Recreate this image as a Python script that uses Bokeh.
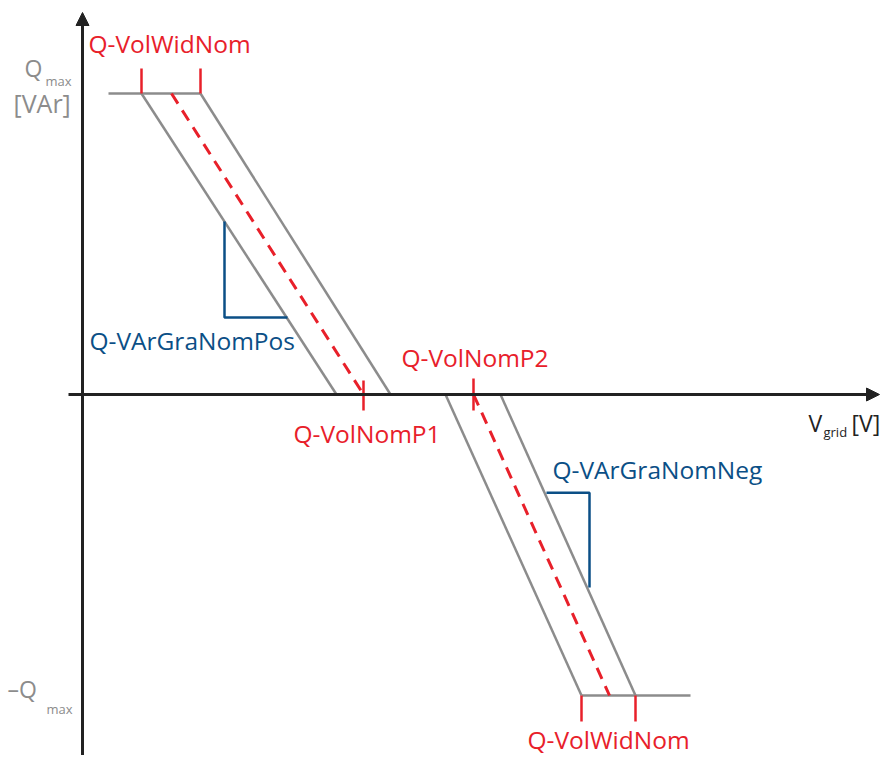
from bokeh.plotting import figure
from bokeh.models import Range1d, Arrow, NormalHead, Label
from bokeh.embed import file_html
from bokeh.resources import INLINE

# ---- data (V in schematic voltage units, Q in units of Qmax) ----
q_max = 1.0
# upper band (positive reactive power)
upper_flat_v = [26, 118]
upper_flat_q = [q_max, q_max]
upper_left_v = [59, 254]
upper_right_v = [118, 308]
upper_center_v = [89, 281]
upper_q = [q_max, 0.0]
# lower band (negative reactive power)
lower_left_v = [363, 499]
lower_right_v = [418, 553]
lower_center_v = [391, 527]
lower_q = [0.0, -q_max]
lower_flat_v = [499, 608]
lower_flat_q = [-q_max, -q_max]
# parameter markers
vol_nom_p1 = 281
vol_nom_p2 = 391
wid_top = [59, 118]
wid_bottom = [499, 553]
# gradient triangles
grad_pos_v = [142, 142, 205]
grad_pos_q = [0.575, 0.256, 0.256]
grad_neg_v = [464, 507, 507]
grad_neg_q = [-0.326, -0.326, -0.641]

RED = "#e8202a"
GRAY = "#8c8c8c"
BLUE = "#0b4f86"
BLACK = "#222222"
FONT = "Open Sans"

def qy(py):
    return (394 - py) / 301.0

p = figure(width=880, height=755, x_range=Range1d(-82, 798),
           y_range=Range1d(qy(755), qy(0)), output_backend="svg",
           toolbar_location=None, min_border=0,
           x_axis_type=None, y_axis_type=None)
p.grid.visible = False
p.outline_line_color = None
p.background_fill_color = "white"
p.border_fill_color = "white"

# axes with arrows
p.add_layout(Arrow(end=NormalHead(size=13, fill_color=BLACK, line_color=BLACK, line_width=1),
                   x_start=-14, y_start=0, x_end=797, y_end=0,
                   line_color=BLACK, line_width=3))
p.add_layout(Arrow(end=NormalHead(size=13, fill_color=BLACK, line_color=BLACK, line_width=1),
                   x_start=0, y_start=qy(775), x_end=0, y_end=qy(12),
                   line_color=BLACK, line_width=3))

# gray characteristic band
lw = 2.5
p.line(upper_flat_v, upper_flat_q, line_color=GRAY, line_width=lw)
p.line(upper_left_v, upper_q, line_color=GRAY, line_width=lw)
p.line(upper_right_v, upper_q, line_color=GRAY, line_width=lw)
p.line(lower_left_v, lower_q, line_color=GRAY, line_width=lw)
p.line(lower_right_v, lower_q, line_color=GRAY, line_width=lw)
p.line(lower_flat_v, lower_flat_q, line_color=GRAY, line_width=lw)

# red dashed center lines
p.line(upper_center_v, upper_q, line_color=RED, line_width=3, line_dash="12 8")
p.line(lower_center_v, lower_q, line_color=RED, line_width=3, line_dash="12 8")

# red tick markers
tick_top = qy(68)
tick_bot = qy(721)
p.segment(x0=wid_top, y0=[q_max] * 2, x1=wid_top, y1=[tick_top] * 2,
          line_color=RED, line_width=2.5)
p.segment(x0=wid_bottom, y0=[-q_max] * 2, x1=wid_bottom, y1=[tick_bot] * 2,
          line_color=RED, line_width=2.5)
p.segment(x0=[vol_nom_p1, vol_nom_p2], y0=[qy(380), qy(378)],
          x1=[vol_nom_p1, vol_nom_p2], y1=[qy(410), qy(410)],
          line_color=RED, line_width=2.5)

# blue gradient triangles
p.line(grad_pos_v, grad_pos_q, line_color=BLUE, line_width=2.5)
p.line(grad_neg_v, grad_neg_q, line_color=BLUE, line_width=2.5)

def lab(text, px, py, color, size, align="left"):
    p.add_layout(Label(x=px - 82, y=qy(py), text=text, text_color=color,
                       text_font=FONT, text_font_size=f"{size}px",
                       text_align=align, text_baseline="middle"))

LS = 24.5
lab("Q-VolWidNom", 88, 43, RED, LS)
lab("Q-VArGraNomPos", 89, 340, BLUE, LS)
lab("Q-VolNomP1", 293, 433, RED, LS)
lab("Q-VolNomP2", 401, 357, RED, LS)
lab("Q-VArGraNomNeg", 552, 469, BLUE, LS)
lab("Q-VolWidNom", 527, 739, RED, LS)

lab("Q", 24, 67, GRAY, 23)
lab("max", 45, 80, GRAY, 13)
lab("[VAr]", 13, 102, GRAY, 25)
lab("\u2013Q", 7, 688, GRAY, 23)
lab("max", 46, 708, GRAY, 13)
lab("V", 808, 422, BLACK, 23)
lab("grid", 823, 431, BLACK, 13)
lab("[V]", 851, 422, BLACK, 23)

open("out.html", "w").write(file_html(p, INLINE))
